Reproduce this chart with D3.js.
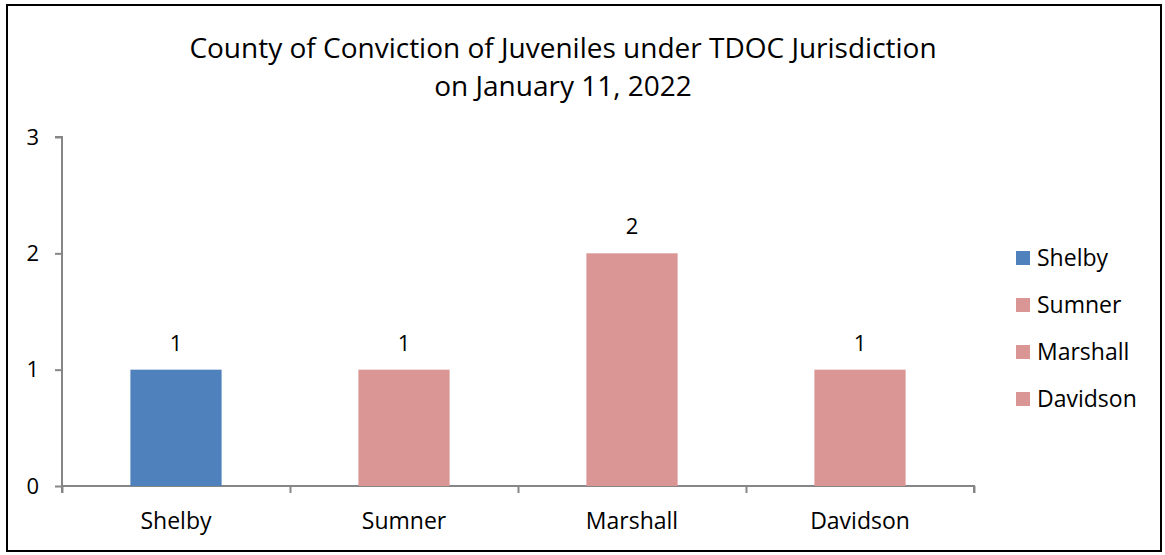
<!DOCTYPE html>
<html><head><meta charset="utf-8">
<script src="https://cdn.jsdelivr.net/npm/d3@7"></script>
<style>body{margin:0;background:#fff}svg{display:block}text{font-family:"Open Sans",sans-serif;fill:#000}</style>
</head><body><svg id="c" width="1165" height="555"></svg>
<script>
const categories = ["Shelby","Sumner","Marshall","Davidson"];
const values = [1,1,2,1];
const colors = ["#4F81BD","#D99694","#D99694","#D99694"];
const yTicks = [0,1,2,3];
const titleLines = ["County of Conviction of Juveniles under TDOC Jurisdiction","on January 11, 2022"];

const svg = d3.select("#c");
svg.append("rect").attr("x",7).attr("y",5).attr("width",1154).attr("height",546)
  .attr("fill","#fff").attr("stroke","#000").attr("stroke-width",2);

const x = d3.scaleBand().domain(categories).range([62,974]).paddingInner(0.6).paddingOuter(0.3);
const y = d3.scaleLinear().domain([0,3]).range([486,137]);

svg.selectAll("text.t").data(titleLines).join("text").attr("class","t")
  .attr("x",563).attr("y",(d,i)=>58+i*38).attr("text-anchor","middle").attr("font-size",28).text(d=>d);

// y axis
const ya = svg.append("g").attr("transform","translate(62,0)")
  .call(d3.axisLeft(y).tickValues(yTicks).tickSize(7).tickPadding(16).tickFormat(d3.format("d")));
ya.select(".domain").attr("stroke","#868686").attr("stroke-width",2).attr("d","M-7,137H0V486");
ya.selectAll(".tick line").attr("stroke","#868686").attr("stroke-width",2);
ya.selectAll(".tick text").attr("font-size",22).attr("fill","#000").style("font-family","Open Sans");

// x axis
const xb = d3.scaleLinear().domain([0,categories.length]).range([62,974]);
const xa = svg.append("g").attr("transform","translate(0,486)")
  .call(d3.axisBottom(xb).tickValues(d3.range(categories.length+1)).tickSize(7).tickFormat(""));
xa.select(".domain").attr("stroke","#868686").attr("stroke-width",2).attr("d","M62,7V0H974V7");
xa.selectAll(".tick line").attr("stroke","#868686").attr("stroke-width",2);

svg.selectAll("text.cat").data(categories).join("text").attr("class","cat")
  .attr("x",d=>x(d)+x.bandwidth()/2).attr("y",529).attr("text-anchor","middle").attr("font-size",23).text(d=>d);

svg.selectAll("rect.bar").data(values).join("rect").attr("class","bar")
  .attr("x",(d,i)=>x(categories[i])).attr("width",x.bandwidth())
  .attr("y",d=>y(d)).attr("height",d=>y(0)-y(d)).attr("fill",(d,i)=>colors[i]);

svg.selectAll("text.v").data(values).join("text").attr("class","v")
  .attr("x",(d,i)=>x(categories[i])+x.bandwidth()/2).attr("y",d=>y(d)-19).attr("text-anchor","middle").attr("font-size",22).text(d=>d);

const lg = svg.selectAll("g.lg").data(categories).join("g").attr("class","lg")
  .attr("transform",(d,i)=>`translate(1016,${258+i*47})`);
lg.append("rect").attr("x",0).attr("y",-7).attr("width",14).attr("height",14).attr("fill",(d,i)=>colors[i]);
lg.append("text").attr("x",21).attr("y",8).attr("font-size",23).text(d=>d);
</script></body></html>
